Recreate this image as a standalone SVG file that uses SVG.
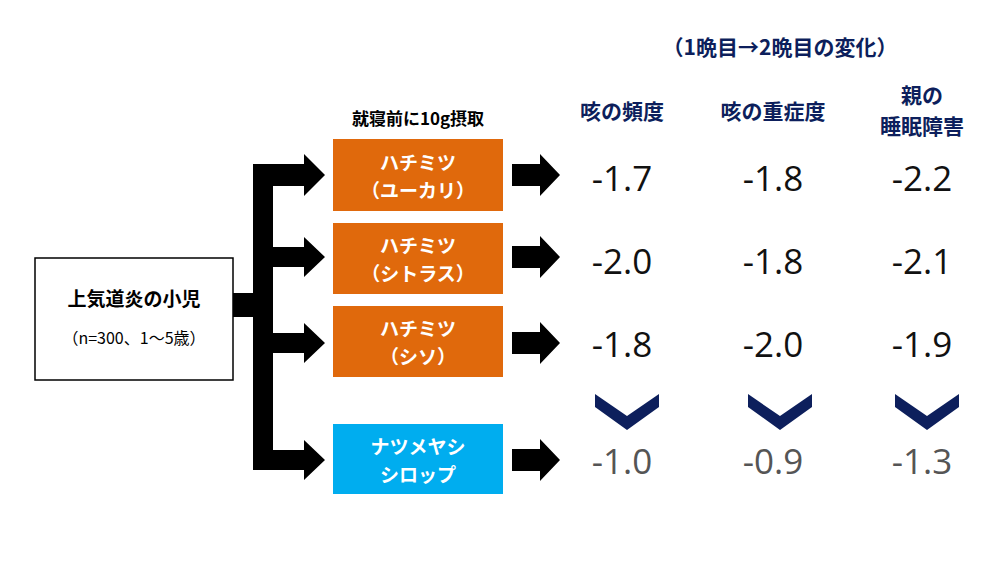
<svg xmlns="http://www.w3.org/2000/svg" width="1000" height="563" viewBox="0 0 1000 563">
<style>
text{font-family:"Noto Sans CJK JP","Noto Sans",sans-serif;text-anchor:middle}
.hd{font-size:21px;font-weight:bold;fill:#0d1f5c}
.bx{font-size:19px;font-weight:bold;fill:#fff}
.v{font-size:35px;fill:#111;font-family:"Open Sans","Noto Sans",sans-serif}
.g{font-size:35px;fill:#555;font-family:"Open Sans","Noto Sans",sans-serif}
.ch{fill:#0d1f5c}
</style>
<rect width="1000" height="563" fill="#fff"/>
<g id="connectors" fill="#000">
<path d="M233,293 H253 V164 H304 V154 L325,175 L304,196 V186 H273 V247 H304 V237 L325,257 L304,277 V267 H273 V333 H304 V323 L325,343 L304,363 V353 H273 V450 H304 V440 L325,460 L304,480 V470 H253 V317 H233 Z"/>
<path d="M512,164 H540 V154 L560,175 L540,196 V186 H512 Z"/>
<path d="M512,246 H540 V236 L560,257 L540,278 V268 H512 Z"/>
<path d="M512,332 H540 V322 L560,343 L540,364 V354 H512 Z"/>
<path d="M512,449 H540 V439 L560,460 L540,481 V471 H512 Z"/>
</g>
<g id="source">
<rect x="35" y="258" width="198" height="122" fill="#fff" stroke="#000" stroke-width="1.5"/>
<text x="134" y="306" style="font-size:19px;font-weight:bold">上気道炎の小児</text>
<text x="134" y="344" style="font-size:16px">（n=300、1～5歳）</text>
</g>
<text x="418" y="125" style="font-size:17px;font-weight:bold">就寝前に10g摂取</text>
<g id="n1"><rect x="333" y="139" width="170" height="72" fill="#e0690c"/><text class="bx" x="418" y="170">ハチミツ</text><text class="bx" x="418" y="198">（ユーカリ）</text></g>
<g id="n2"><rect x="333" y="223" width="170" height="71" fill="#e0690c"/><text class="bx" x="418" y="253">ハチミツ</text><text class="bx" x="418" y="281">（シトラス）</text></g>
<g id="n3"><rect x="333" y="306" width="170" height="71" fill="#e0690c"/><text class="bx" x="418" y="336">ハチミツ</text><text class="bx" x="418" y="364">（シソ）</text></g>
<g id="n4"><rect x="333" y="424" width="170" height="70" fill="#00adef"/><text class="bx" x="418" y="454">ナツメヤシ</text><text class="bx" x="418" y="482">シロップ</text></g>
<text class="hd" x="780" y="55">（1晩目→2晩目の変化）</text>
<text class="hd" x="622" y="119">咳の頻度</text>
<text class="hd" x="773" y="119">咳の重症度</text>
<text class="hd" x="922" y="103">親の</text>
<text class="hd" x="922" y="134">睡眠障害</text>
<g id="values">
<text class="v" x="622" y="191">-1.7</text><text class="v" x="773" y="191">-1.8</text><text class="v" x="922" y="191">-2.2</text>
<text class="v" x="622" y="274">-2.0</text><text class="v" x="773" y="274">-1.8</text><text class="v" x="922" y="274">-2.1</text>
<text class="v" x="622" y="357">-1.8</text><text class="v" x="773" y="357">-2.0</text><text class="v" x="922" y="357">-1.9</text>
<text class="g" x="622" y="474">-1.0</text><text class="g" x="773" y="474">-0.9</text><text class="g" x="922" y="474">-1.3</text>
</g>
<g id="chevrons" class="ch">
<polygon points="595,394 627,416 659,394 659,407 627,430 595,407"/>
<polygon points="748,394 780,416 812,394 812,407 780,430 748,407"/>
<polygon points="895,394 927,416 959,394 959,407 927,430 895,407"/>
</g>
</svg>
